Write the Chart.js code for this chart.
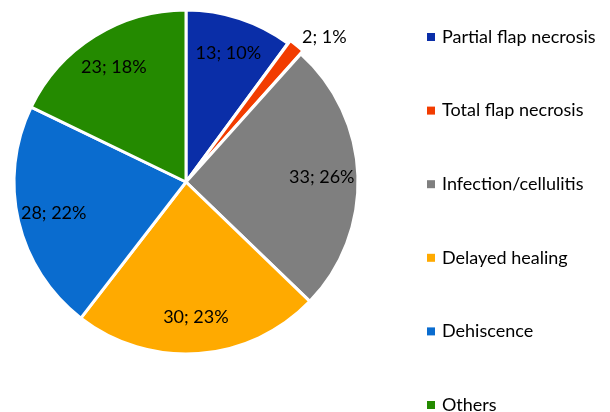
<!DOCTYPE html>
<html>
<head>
<meta charset="utf-8">
<script src="https://cdn.jsdelivr.net/npm/chart.js@4"></script>
<style>
  html, body { margin: 0; padding: 0; background: #fff; }
  #wrap { width: 610px; height: 412px; }
</style>
</head>
<body>
<div id="wrap"><canvas id="pieChart" width="610" height="412"></canvas></div>
<script>
// ── DATA ─────────────────────────────────────────────────────
const categories = ['Partial flap necrosis', 'Total flap necrosis', 'Infection/cellulitis', 'Delayed healing', 'Dehiscence', 'Others'];
const counts = [13, 2, 33, 30, 28, 23];
const percents = [10, 1, 26, 23, 22, 18];
const sliceColors = ['#0a2ea8', '#f23c00', '#7f7f7f', '#ffaa00', '#0a6ccf', '#248a00'];

const FONT = '18px Lato, "Open Sans", sans-serif';

// slice labels "n; p%" - inside for big slices, outside for the tiny one
const sliceLabels = {
    id: 'sliceLabels',
    afterDatasetsDraw(chart) {
        const ctx = chart.ctx;
        const arcs = chart.getDatasetMeta(0).data;
        ctx.save();
        ctx.font = FONT;
        ctx.fillStyle = '#000';
        ctx.textBaseline = 'middle';
        arcs.forEach((arc, i) => {
            const mid = (arc.startAngle + arc.endAngle) / 2;
            const text = counts[i] + '; ' + percents[i] + '%';
            if (arc.endAngle - arc.startAngle < 0.3) {
                const r = arc.outerRadius + 12;
                ctx.textAlign = 'left';
                ctx.fillText(text, arc.x + Math.cos(mid) * r, arc.y + Math.sin(mid) * r - 2);
            } else {
                const r = arc.outerRadius * 0.79;
                ctx.textAlign = 'center';
                ctx.fillText(text, arc.x + Math.cos(mid) * r, arc.y + Math.sin(mid) * r);
            }
        });
        ctx.restore();
    }
};

// legend on the right, evenly spread down the full height
const sideLegend = {
    id: 'sideLegend',
    afterDraw(chart) {
        const ctx = chart.ctx;
        ctx.save();
        ctx.font = FONT;
        ctx.textAlign = 'left';
        ctx.textBaseline = 'middle';
        categories.forEach((name, i) => {
            const y = 37 + i * 73.6;
            ctx.fillStyle = sliceColors[i];
            ctx.fillRect(427, y - 4, 8, 8);
            ctx.fillStyle = '#000';
            ctx.fillText(name, 442, y);
        });
        ctx.restore();
    }
};

new Chart(document.getElementById('pieChart'), {
    type: 'pie',
    data: {
        labels: categories,
        datasets: [{
            data: counts,
            backgroundColor: sliceColors,
            borderColor: '#fff',
            borderWidth: 3,
            offset: counts.map((v, i) => i === 1 ? 8 : 0)
        }]
    },
    options: {
        responsive: false,
        animation: false,
        radius: 172,
        layout: { padding: { left: 0, top: 0, right: 238, bottom: 48 } },
        plugins: { legend: { display: false }, tooltip: { enabled: false } }
    },
    plugins: [sliceLabels, sideLegend]
});
</script>
</body>
</html>
